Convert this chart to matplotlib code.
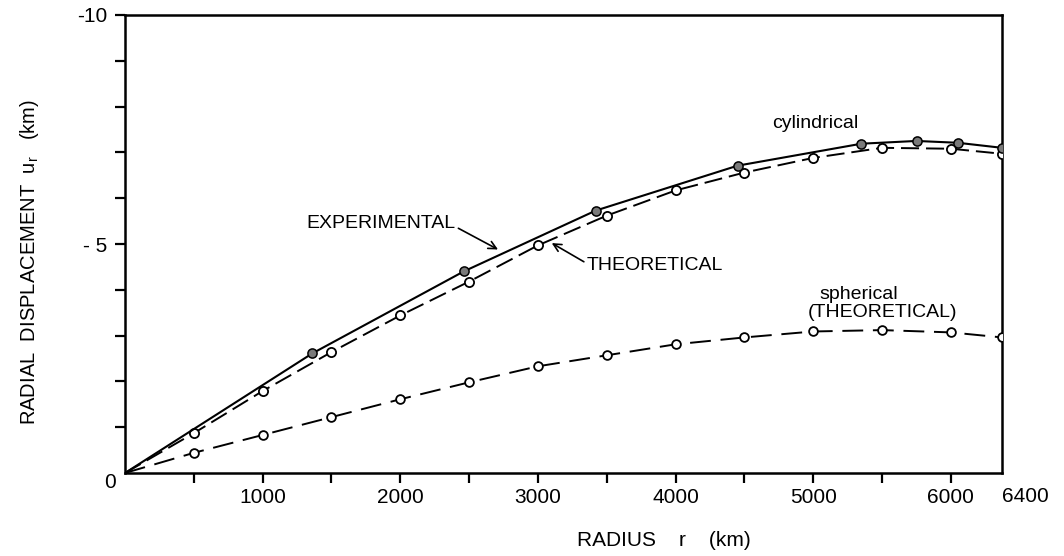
import matplotlib
matplotlib.use("Agg")
import matplotlib.pyplot as plt
from matplotlib.transforms import offset_copy

plt.rcParams['font.family'] = ['Liberation Sans', 'DejaVu Sans']
plt.rcParams['mathtext.fontset'] = 'custom'
plt.rcParams['mathtext.rm'] = 'Liberation Sans'
plt.rcParams['mathtext.it'] = 'Liberation Sans'
plt.rcParams['mathtext.sf'] = 'Liberation Sans'
plt.rcParams['lines.scale_dashes'] = False

# ---- data (radius in km, radial displacement in km) ----
r_theo = [0, 500, 1000, 1500, 2000, 2500, 3000, 3500, 4000, 4500, 5000, 5500, 6000, 6371]
u_cyl_theo = [0, -0.87, -1.79, -2.64, -3.44, -4.18, -4.97, -5.62, -6.17, -6.56, -6.88, -7.10, -7.08, -6.97]
u_sph_theo = [0, -0.44, -0.83, -1.22, -1.61, -1.98, -2.33, -2.57, -2.81, -2.96, -3.09, -3.12, -3.07, -2.96]

r_exp = [0, 1360, 2460, 3420, 4450, 5350, 5750, 6050, 6371]
u_cyl_exp = [0, -2.61, -4.40, -5.73, -6.71, -7.19, -7.25, -7.21, -7.10]

x_major = [1000, 2000, 3000, 4000, 5000, 6000]
x_minor = [500, 1500, 2500, 3500, 4500, 5500]
x_labels = ['1000', '2000', '3000', '4000', '5000', '6000']
y_major = [-10, -5]
y_labels = ['-10', '- 5']
y_minor = [-1, -2, -3, -4, -6, -7, -8, -9]

fig = plt.figure(figsize=(10.64, 5.56), dpi=100)
ax = fig.add_axes([125/1064, 1 - 473/556, 877/1064, 458/556])

# theoretical cylindrical (dashed, open markers)
ax.plot(r_theo, u_cyl_theo, color='black', lw=1.4, dashes=(13, 5),
        marker='o', markersize=6.6, markerfacecolor='white', markeredgecolor='black',
        markeredgewidth=1.3, markevery=slice(1, None), zorder=3)
# experimental cylindrical (solid, grey markers)
ax.plot(r_exp, u_cyl_exp, color='black', lw=1.5, ls='-',
        marker='o', markersize=6.6, markerfacecolor='#7a7a7a', markeredgecolor='black',
        markeredgewidth=1.1, markevery=slice(1, None), zorder=4)
# theoretical spherical (dashed, open markers)
ax.plot(r_theo, u_sph_theo, color='black', lw=1.4, dashes=(15, 7),
        marker='o', markersize=6.3, markerfacecolor='white', markeredgecolor='black',
        markeredgewidth=1.3, markevery=slice(1, None), zorder=3)

ax.set_xlim(0, 6371)
ax.set_ylim(0, -10)

ax.set_xticks(x_major)
ax.set_xticklabels(x_labels)
ax.set_xticks(x_minor, minor=True)
ax.set_yticks(y_major)
ax.set_yticklabels(y_labels)
ax.set_yticks(y_minor, minor=True)

ax.tick_params(axis='both', which='both', direction='out', width=1.6, length=7,
               labelsize=15, top=False, right=False, pad=4)
ax.tick_params(axis='y', which='major', pad=6)
for s in ax.spines.values():
    s.set_linewidth(1.8)

# extra axis labels
ax.text(0, 0, '0', transform=offset_copy(ax.transData, fig=fig, x=-15, y=-10, units='dots'),
        ha='center', va='center', fontsize=15)
ax.text(6371, 0, '6400', transform=offset_copy(ax.transData, fig=fig, x=23, y=-23, units='dots'),
        ha='center', va='center', fontsize=15)

fig.text(664/1064, 1 - 541/556, 'RADIUS    r    (km)', ha='center', va='center', fontsize=15)
fig.text(30/1064, 1 - 262/556, r'RADIAL  DISPLACEMENT  u$_\mathregular{r}$   (km)',
         ha='center', va='center', rotation=90, fontsize=14.5)

# annotations
ax.text(5011, -7.64, 'cylindrical', ha='center', va='center', fontsize=14)
ax.annotate('EXPERIMENTAL', xy=(2710, -4.88), xytext=(1860, -5.45),
            ha='center', va='center', fontsize=14,
            arrowprops=dict(arrowstyle='->', color='black', lw=1.2,
                            shrinkA=0, shrinkB=0, relpos=(1.0, 0.3)))
ax.annotate('THEORETICAL', xy=(3100, -5.02), xytext=(3849, -4.54),
            ha='center', va='center', fontsize=14,
            arrowprops=dict(arrowstyle='->', color='black', lw=1.2,
                            shrinkA=0, shrinkB=0, relpos=(0.0, 0.6)))
ax.text(5330, -3.90, 'spherical', ha='center', va='center', fontsize=14)
ax.text(5500, -3.51, '(THEORETICAL)', ha='center', va='center', fontsize=14)

fig.savefig('out.png', dpi=100, facecolor='white')
